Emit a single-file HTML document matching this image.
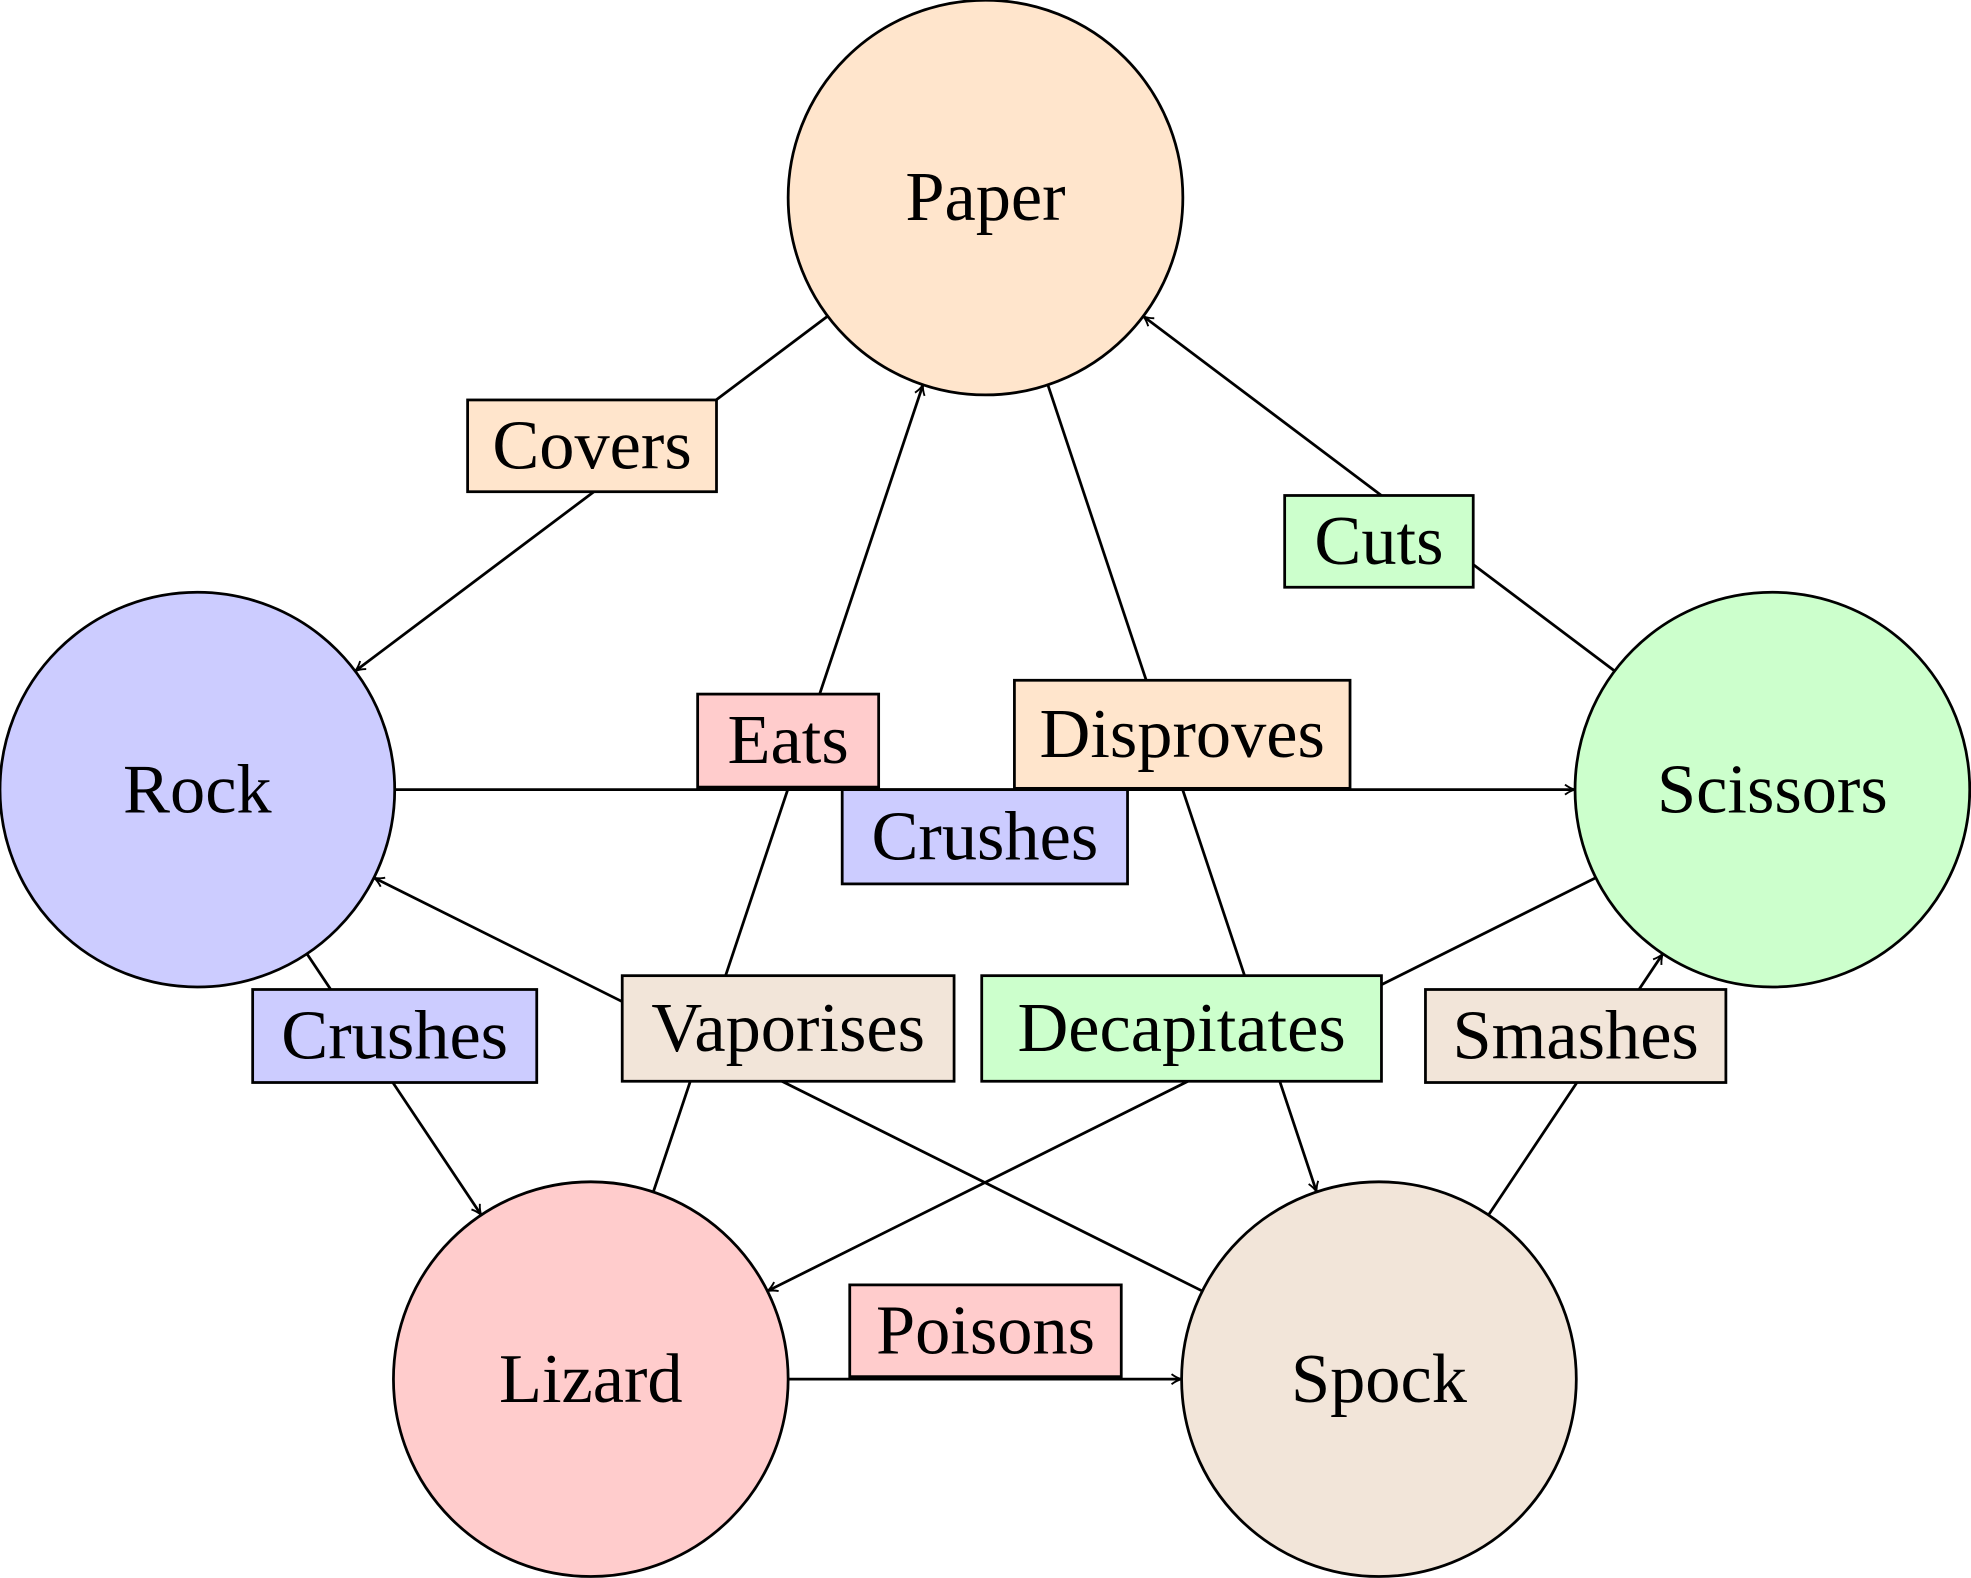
<!DOCTYPE html>
<html><head><meta charset="utf-8"><style>
html,body{margin:0;padding:0;background:#fff;}
svg{display:block;}
text{font-family:"Liberation Serif",serif;}
</style></head><body>
<svg id="chart" width="1971" height="1578" viewBox="0 0 1568 1255" xmlns="http://www.w3.org/2000/svg">
<defs>
<marker id="arr" viewBox="0 0 10 10" refX="9" refY="5" markerWidth="10" markerHeight="10" markerUnits="userSpaceOnUse" orient="auto">
<path d="M1,1 Q5,4 9,5 Q5,6 1,9" fill="none" stroke="#000" stroke-width="1.5"/>
</marker>
</defs>
<g id="edges"></g><g id="labels"></g><g id="nodes"></g>
</svg>
<script>
const nodeNames=["Paper","Rock","Scissors","Lizard","Spock"];
const nodeX=[784,157,1410,470,1097];
const nodeY=[157,628,628,1097,1097];
const nodeColors=["#ffe5cc","#ccccff","#ccffcc","#ffcccc","#f2e5d9"];
const edgeFrom=[0,2,1,1,3,0,4,2,4,3];
const edgeTo=[1,0,2,3,0,4,1,3,2,4];
const edgeLabels=["Covers","Cuts","Crushes","Crushes","Eats","Disproves","Vaporises","Decapitates","Smashes","Poisons"];
const labelBoxes=[[372,318,198,73],[1022,394,150,73],[670,628,227,75],[201,787,226,74],[555,552,144,74],[807,541,267,86],[495,776,264,84],[781,776,318,84],[1134,787,239,74],[676,1022,216,73]];
const R=157;
const NS="http://www.w3.org/2000/svg";
const eg=document.getElementById('edges'),lg=document.getElementById('labels'),ng=document.getElementById('nodes');
function mk(t,a){const e=document.createElementNS(NS,t);for(const k in a)e.setAttribute(k,a[k]);return e;}
edgeFrom.forEach((f,i)=>{
  const t=edgeTo[i];
  const dx=nodeX[t]-nodeX[f],dy=nodeY[t]-nodeY[f],L=Math.hypot(dx,dy);
  const ux=dx/L,uy=dy/L;
  const ln=mk('line',{x1:nodeX[f]+ux*R,y1:nodeY[f]+uy*R,x2:nodeX[t]-ux*R,y2:nodeY[t]-uy*R,stroke:'#000','stroke-width':2.2,'marker-end':'url(#arr)'});
  
  
  eg.appendChild(ln);
  const b=labelBoxes[i];
  const g=mk('g',{});
  
  
  g.appendChild(mk('rect',{x:b[0],y:b[1],width:b[2],height:b[3],fill:nodeColors[f],stroke:'#000','stroke-width':2.2}));
  const tx=mk('text',{x:b[0]+b[2]/2,y:b[1]+b[3]/2+18,'text-anchor':'middle','font-size':56});
  tx.textContent=edgeLabels[i];g.appendChild(tx);
  lg.appendChild(g);
});
nodeNames.forEach((n,i)=>{
  const g=mk('g',{});
  
  
  g.appendChild(mk('circle',{cx:nodeX[i],cy:nodeY[i],r:R,fill:nodeColors[i],stroke:'#000','stroke-width':2.2}));
  const tx=mk('text',{x:nodeX[i],y:nodeY[i]+18,'text-anchor':'middle','font-size':56});
  tx.textContent=n;g.appendChild(tx);
  ng.appendChild(g);
});
</script>
</body></html>
